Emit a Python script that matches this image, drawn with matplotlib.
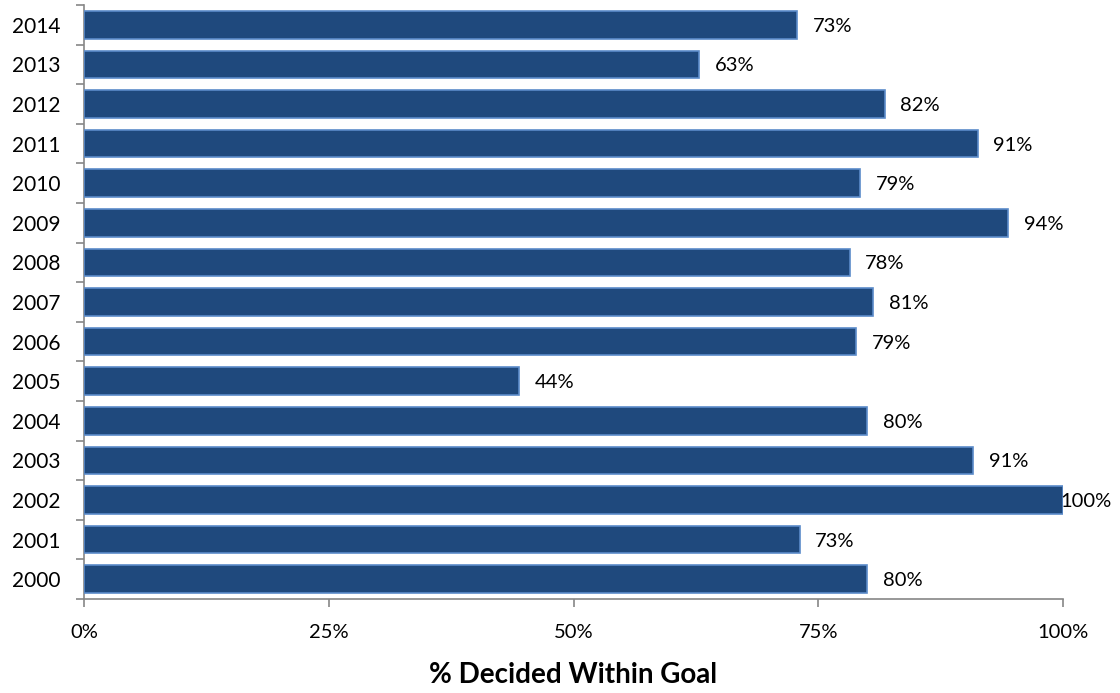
import matplotlib
matplotlib.use("Agg")
import matplotlib.pyplot as plt
from matplotlib.ticker import FixedLocator, NullFormatter

years = ["2000", "2001", "2002", "2003", "2004", "2005", "2006", "2007",
         "2008", "2009", "2010", "2011", "2012", "2013", "2014"]
values = [80.0, 73.1, 100.0, 90.8, 80.0, 44.4, 78.9, 80.6,
          78.2, 94.4, 79.3, 91.3, 81.8, 62.8, 72.8]
labels = ["80%", "73%", "100%", "91%", "80%", "44%", "79%", "81%",
          "78%", "94%", "79%", "91%", "82%", "63%", "73%"]
xticks = [0, 25, 50, 75, 100]
xticklabels = ["0%", "25%", "50%", "75%", "100%"]

plt.rcParams['font.family'] = ['Lato', 'DejaVu Sans']

fig = plt.figure(figsize=(11.2, 6.93), dpi=100)
ax = fig.add_axes([84/1120, 1 - 599/693, (1063 - 84)/1120, (599 - 5)/693])

pos = list(range(len(years)))
ax.barh(pos, values, height=0.7, color="#1F497D", edgecolor="#5B8BC9", linewidth=1.2, zorder=3)

for p, v, lab in zip(pos, values, labels):
    x = min(v + 1.6, 99.75)
    ax.text(x, p, lab, va="center_baseline", ha="left", fontsize=14.5, color="black")

ax.set_xlim(0, 100)
ax.set_ylim(-0.5, len(years) - 0.5)
ax.set_xticks(xticks)
ax.set_xticklabels(xticklabels, fontsize=14.5)
ax.set_yticks(pos)
ax.set_yticklabels(years, fontsize=15)
ax.yaxis.set_minor_locator(FixedLocator([i - 0.5 for i in range(len(years) + 1)]))
ax.yaxis.set_minor_formatter(NullFormatter())
ax.tick_params(axis='y', which='major', length=0, pad=17)
ax.tick_params(axis='y', which='minor', length=6, color="#868686", width=1.2)
ax.tick_params(axis='x', which='major', length=6, color="#868686", width=1.2, pad=12)

for s in ["top", "right"]:
    ax.spines[s].set_visible(False)
for s in ["left", "bottom"]:
    ax.spines[s].set_color("#868686")
    ax.spines[s].set_linewidth(1.2)

ax.set_xlabel("% Decided Within Goal", fontsize=20, fontweight="bold", labelpad=15)

fig.savefig("out.png", dpi=100)
